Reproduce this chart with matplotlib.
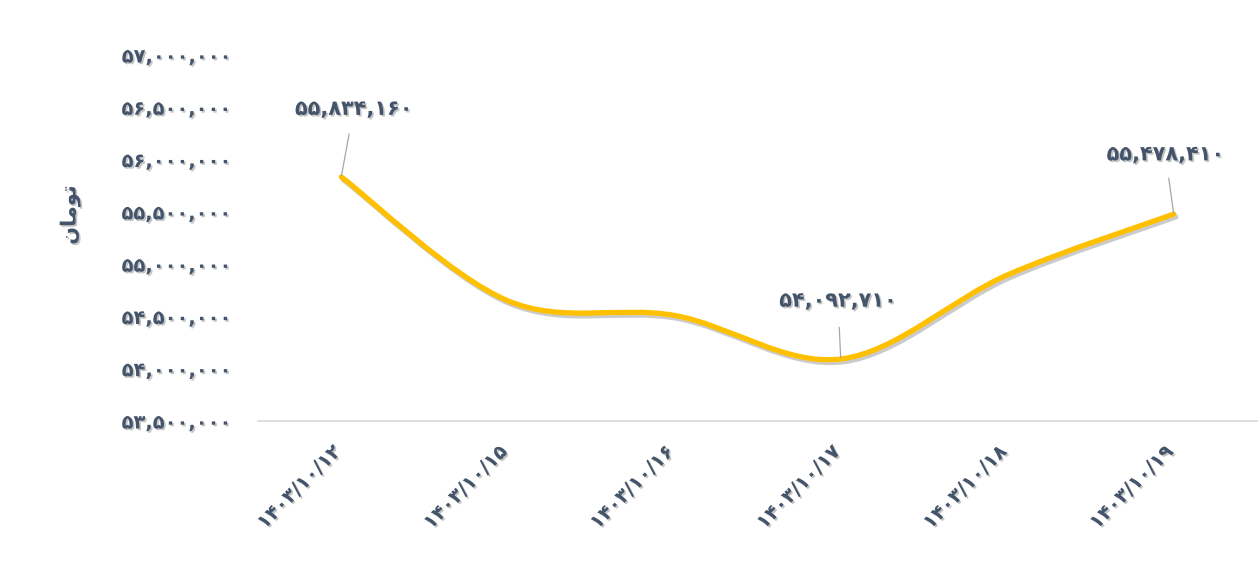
import matplotlib
matplotlib.use("Agg")
import matplotlib.pyplot as plt
import matplotlib.patheffects as pe
import matplotlib.transforms as mtransforms
from matplotlib.path import Path
from matplotlib.patches import PathPatch
import numpy as np

# data (prices in toman)
dates = ["۱۴۰۳/۱۰/۱۲", "۱۴۰۳/۱۰/۱۵", "۱۴۰۳/۱۰/۱۶", "۱۴۰۳/۱۰/۱۷", "۱۴۰۳/۱۰/۱۸", "۱۴۰۳/۱۰/۱۹"]
prices = [55834160, 54650000, 54510000, 54092710, 54896000, 55478410]
labelled = [0, 3, 5]
yticks = [53500000, 54000000, 54500000, 55000000, 55500000, 56000000, 56500000, 57000000]
ylabel = "\uFEE5\uFE8E\uFEE3\uFEEE\uFE97"  # تومان, visual order with joined forms

TXT = "#44546A"
LINE = "#FFC000"
FONT = ["DejaVu Sans"]

fa_digits = str.maketrans("0123456789", "۰۱۲۳۴۵۶۷۸۹")


def fa(n):
    return f"{n:,}".translate(fa_digits)


shadow = [pe.withSimplePatchShadow(offset=(1.2, -1.2), shadow_rgbFace="#7f7f7f", alpha=0.45)]

fig = plt.figure(figsize=(12.59, 5.62), dpi=100)
ax = fig.add_axes([258 / 1259, 1 - 421 / 562, 999 / 1259, (421 - 55) / 562])

x = np.arange(len(prices))
y = np.array(prices, dtype=float)

# smooth curve: Catmull-Rom segments as cubic bezier
verts = [(x[0], y[0])]
codes = [Path.MOVETO]
n = len(x)
for i in range(n - 1):
    p0 = np.array([x[max(i - 1, 0)], y[max(i - 1, 0)]])
    p1 = np.array([x[i], y[i]])
    p2 = np.array([x[i + 1], y[i + 1]])
    p3 = np.array([x[min(i + 2, n - 1)], y[min(i + 2, n - 1)]])
    c1 = p1 + (p2 - p0) / 6
    c2 = p2 - (p3 - p1) / 6
    verts += [tuple(c1), tuple(c2), tuple(p2)]
    codes += [Path.CURVE4] * 3
curve = PathPatch(Path(verts, codes), facecolor="none", edgecolor=LINE, lw=3.8,
                  capstyle="round", joinstyle="round", zorder=3)
curve.set_path_effects([pe.SimpleLineShadow(offset=(1.5, -2), shadow_color="#555555", alpha=0.3),
                        pe.Normal()])
ax.add_patch(curve)

ax.set_xlim(-0.5, n - 0.5)
ax.set_ylim(yticks[0], yticks[-1])

for s in ["top", "right", "left"]:
    ax.spines[s].set_visible(False)
ax.spines["bottom"].set_color("#D9D9D9")
ax.spines["bottom"].set_linewidth(1.2)

ax.set_yticks(yticks)
ax.set_yticklabels([fa(v) for v in yticks])
ax.set_xticks(x)
ax.set_xticklabels(dates)
ax.tick_params(axis="both", length=0)
ax.tick_params(axis="y", pad=19)
ax.tick_params(axis="x", pad=15)
for t in ax.get_yticklabels():
    t.set_fontfamily(FONT)
    t.set_fontweight("bold")
    t.set_fontsize(14)
    t.set_color(TXT)
    t.set_path_effects(shadow)
shift = mtransforms.ScaledTranslation(-10 / 100, 0, fig.dpi_scale_trans)
for t in ax.get_xticklabels():
    t.set_fontfamily(FONT)
    t.set_fontweight("bold")
    t.set_fontsize(14)
    t.set_color(TXT)
    t.set_rotation(45)
    t.set_ha("right")
    t.set_va("top")
    t.set_rotation_mode("anchor")
    t.set_path_effects(shadow)
    t.set_transform(t.get_transform() + shift)

fig.text(70 / 1259, 1 - 215 / 562, ylabel, rotation=90, ha="center", va="center",
         fontsize=15, fontweight="bold", color=TXT, family=FONT, path_effects=shadow)

offsets = {0: (9, 49, 9), 3: (-2, 42, 10), 5: (-6, 43, 8)}
for i in labelled:
    dx, dy, gap = offsets[i]
    ax.annotate(fa(prices[i]), xy=(x[i], y[i]), xytext=(dx, dy), textcoords="offset points",
                ha="center", va="center", fontsize=15, fontweight="bold", color=TXT,
                family=FONT, path_effects=shadow, zorder=4,
                arrowprops=dict(arrowstyle="-", color="#A6A6A6", lw=0.9,
                                shrinkA=gap, shrinkB=1))

fig.savefig("out.png", dpi=100, facecolor="white")
